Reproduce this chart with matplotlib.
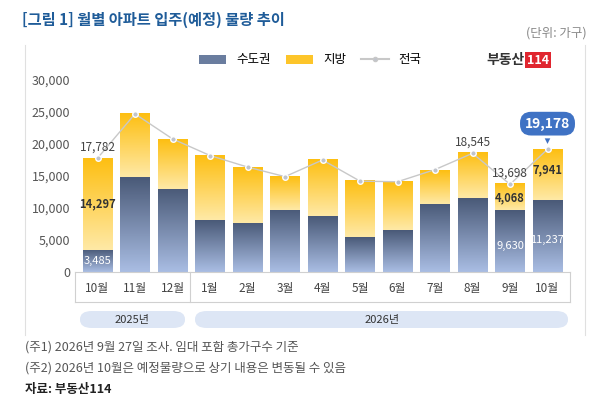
import matplotlib
matplotlib.use("Agg")
import matplotlib.pyplot as plt
import numpy as np
from matplotlib.colors import LinearSegmentedColormap
from matplotlib.patches import FancyBboxPatch, Patch
from matplotlib.lines import Line2D

plt.rcParams['font.family'] = ['Noto Sans CJK KR', 'DejaVu Sans']

months = ['10월','11월','12월','1월','2월','3월','4월','5월','6월','7월','8월','9월','10월']
metro = [3485, 14800, 13000, 8100, 7700, 9700, 8700, 5400, 6500, 10700, 11500, 9630, 11237]
total = [17782, 24700, 20800, 18200, 16400, 14900, 17500, 14200, 14100, 16000, 18545, 13698, 19178]
local = [t - m for t, m in zip(total, metro)]
years = ['2025년', '2026년']

W, H = 597, 405
fig = plt.figure(figsize=(W/100, H/100), dpi=100)
ax = fig.add_axes([75/W, 1-272/H, (570-75)/W, (272-80)/H])
x = np.arange(len(months))
bw = 0.78
cm_blue = LinearSegmentedColormap.from_list('b', ['#a9bde3', '#4a5a78'])
cm_yel = LinearSegmentedColormap.from_list('y', ['#ffe9a6', '#fdbf12'])
grad = np.linspace(0, 1, 100).reshape(-1, 1)
for i in x:
    ax.imshow(grad, cmap=cm_blue, aspect='auto', origin='lower',
              extent=(i-bw/2, i+bw/2, 0, metro[i]), zorder=2)
    ax.imshow(grad, cmap=cm_yel, aspect='auto', origin='lower',
              extent=(i-bw/2, i+bw/2, metro[i], total[i]), zorder=2)
ax.plot(x, total, color='#c8c8c8', lw=1, marker='o', ms=4, mfc='#c0c4cc', mec='white', zorder=3)
ax.set_xlim(-0.6, len(months)-0.4)
ax.set_ylim(0, 30000)
ax.set_yticks(range(0, 30001, 5000))
ax.set_yticklabels([f'{v:,}' for v in range(0, 30001, 5000)], fontsize=9, color='#555555')
ax.set_xticks([])
for s in ['top', 'right', 'left']:
    ax.spines[s].set_visible(False)
ax.spines['bottom'].set_color('#d0d0d0')
ax.tick_params(axis='y', length=0)

ax.text(0, total[0]+700, '17,782', ha='center', va='bottom', fontsize=8.5, color='#444')
ax.text(0, 3485 + 14297/2, '14,297', ha='center', va='center', fontsize=8, color='#333', fontweight='bold')
ax.text(0, 1700, '3,485', ha='center', va='center', fontsize=8, color='white')
ax.text(10, total[10]+700, '18,545', ha='center', va='bottom', fontsize=8.5, color='#444')
ax.text(11, total[11]+700, '13,698', ha='center', va='bottom', fontsize=8.5, color='#444')
ax.text(11, metro[11]+local[11]/2, '4,068', ha='center', va='center', fontsize=8, color='#333', fontweight='bold')
ax.text(11, 4000, '9,630', ha='center', va='center', fontsize=8, color='white')
ax.text(12, metro[12]+local[12]/2+800, '7,941', ha='center', va='center', fontsize=8, color='#333', fontweight='bold')
ax.text(12, 5000, '11,237', ha='center', va='center', fontsize=8, color='white')
ax.annotate('19,178', xy=(12, total[12]+400), xytext=(12, total[12]+4000), ha='center', va='center',
            fontsize=10, color='white', fontweight='bold',
            bbox=dict(boxstyle='round,pad=0.35,rounding_size=0.8', fc='#3f72c4', ec='none'),
            arrowprops=dict(arrowstyle='-|>', color='#3f72c4', lw=0))

handles = [Patch(fc='#6a7d9f'), Patch(fc='#fdc52a'),
           Line2D([], [], color='#c8c8c8', marker='o', ms=3, mfc='#c0c4cc')]
fig.legend(handles, ['수도권', '지방', '전국'], loc='center', bbox_to_anchor=(310/W, 1-60/H),
           ncol=3, frameon=False, fontsize=9, handlelength=2.2, columnspacing=1.2)

for i, m in enumerate(months):
    ax.text(i, -1500, m, ha='center', va='top', fontsize=8.5, color='#444')
fig.add_artist(FancyBboxPatch((80/W, 1-328/H), 105/W, 17/H, boxstyle='round,pad=0,rounding_size=0.02',
                              fc='#dde6f5', ec='none', transform=fig.transFigure))
fig.add_artist(FancyBboxPatch((195/W, 1-328/H), 373/W, 17/H, boxstyle='round,pad=0,rounding_size=0.02',
                              fc='#dde6f5', ec='none', transform=fig.transFigure))
fig.text(132/W, 1-319.5/H, years[0], ha='center', va='center', fontsize=8, color='#333')
fig.text(382/W, 1-319.5/H, years[1], ha='center', va='center', fontsize=8, color='#333')
for xs in [75, 190, 570]:
    fig.add_artist(plt.Line2D([xs/W, xs/W], [1-302/H, 1-272/H], color='#d0d0d0', lw=0.8))
fig.add_artist(plt.Line2D([75/W, 570/W], [1-302/H, 1-302/H], color='#d0d0d0', lw=0.8))
fig.add_artist(plt.Line2D([25/W, 25/W], [1-335/H, 1-45/H], color='#e0e0e0', lw=0.8))
fig.add_artist(plt.Line2D([585/W, 585/W], [1-335/H, 1-45/H], color='#e0e0e0', lw=0.8))

fig.text(22/W, 1-20/H, '[그림 1] 월별 아파트 입주(예정) 물량 추이', fontsize=11, color='#1f5c99',
         fontweight='bold', va='center')
fig.text(587/W, 1-33/H, '(단위: 가구)', fontsize=9, color='#888', ha='right', va='center')
fig.text(525/W, 1-60/H, '부동산', fontsize=10, color='#333', fontweight='bold', ha='right', va='center')
fig.text(527/W, 1-60/H, '114', fontsize=9, color='white', fontweight='bold', va='center',
         bbox=dict(boxstyle='square,pad=0.15', fc='#e0262f', ec='none'))
fig.text(25/W, 1-347/H, '(주1) 2026년 9월 27일 조사. 임대 포함 총가구수 기준', fontsize=9, color='#555', va='center')
fig.text(25/W, 1-368/H, '(주2) 2026년 10월은 예정물량으로 상기 내용은 변동될 수 있음', fontsize=9, color='#555', va='center')
fig.text(25/W, 1-389/H, '자료: 부동산114', fontsize=9, color='#222', fontweight='bold', va='center')

fig.savefig('out.png', dpi=100)
